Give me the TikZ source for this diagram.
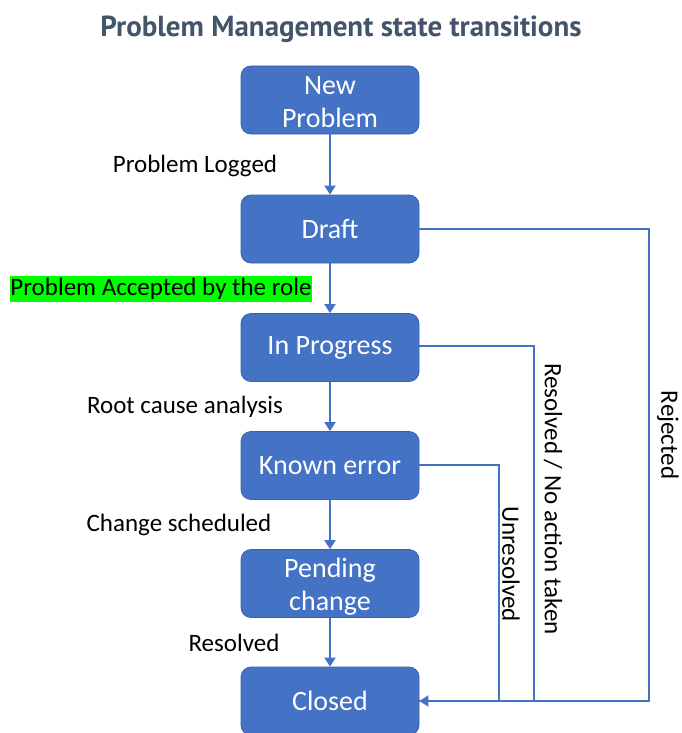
\documentclass[tikz,border=0pt]{standalone}
\usepackage{fontspec}
\setmainfont{Carlito}
\newfontfamily\titlefont{PT Sans}
\usetikzlibrary{arrows.meta}
\definecolor{stateblue}{HTML}{4472C4}
\definecolor{stateedge}{HTML}{3A62AC}
\definecolor{titlegray}{HTML}{44546A}
\definecolor{hilite}{HTML}{00FF00}
% two centred lines, set 4pt lower while keeping the box's own height and depth
\newcommand{\twolines}[2]{\raisebox{-4pt}[\height][\depth]{\begin{tabular}{@{}c@{}}#1\\#2\end{tabular}}}
\tikzset{
  state/.style={draw=stateedge, line width=0.8pt, fill=stateblue, rounded corners=10pt,
    minimum width=178pt, minimum height=68pt, inner sep=0pt, text=white,
    font=\fontsize{28}{33}\selectfont, align=center},
  flow/.style={draw=stateblue, line width=2pt, -{Triangle[width=11pt,length=9pt]}},
  link/.style={draw=stateblue, line width=2pt},
  tag/.style={font=\fontsize{25}{28}\selectfont, text=black, inner sep=0pt},
}
\begin{document}
\begin{tikzpicture}[x=1pt,y=-1pt]
\useasboundingbox (0,0) rectangle (681,733);
\begin{scope}
\clip (0,0) rectangle (681,733);

% title
\node (title) at (341,29) {\titlefont\bfseries\fontsize{29}{32}\selectfont\color{titlegray}Problem Management state transitions};

% states
\node[state] (new) at (330,100) {\twolines{New}{Problem}};
\node[state] (draft) at (330,229) {Draft};
\node[state] (prog) at (330,347.5) {In Progress};
\node[state] (known) at (330,465.5) {Known error};
\node[state] (pend) at (330,583.5) {\twolines{Pending}{change}};
\node[state] (closed) at (330,701) {Closed};

% main path
\draw[flow] (new) -- (draft);
\draw[flow] (draft) -- (prog);
\draw[flow] (prog) -- (known);
\draw[flow] (known) -- (pend);
\draw[flow] (pend) -- (closed);

% side exits to Closed
\coordinate (rejx) at (649,229);
\coordinate (resx) at (534,346);
\coordinate (unrx) at (499,465);
\draw[link] (draft.east) -- (rejx) |- (closed.east);
\draw[link] (prog.east |- resx) -- (resx) -- (resx |- closed.east);
\draw[link] (known.east |- unrx) -- (unrx) -- (unrx |- closed.east);
\draw[flow] (unrx |- closed.east) -- (closed.east);

% step labels
\node[tag] (lblog) at (195,166) {Problem Logged};
\node[tag, fill=hilite, minimum height=26pt, minimum width=300pt] (lbacc) at (161,289) {Problem Accepted by the role};
\node[tag] (lbrca) at (185,407) {Root cause analysis};
\node[tag] (lbchg) at (179,525) {Change scheduled};
\node[tag] (lbres) at (234,643) {Resolved};
\node[tag, rotate=-90] (lbnoact) at (553,499) {Resolved / No action taken};
\node[tag, rotate=-90] (lbunr) at (511,564) {Unresolved};
\node[tag, rotate=-90] (lbrej) at (668,435) {Rejected};
\end{scope}
\end{tikzpicture}
\end{document}
